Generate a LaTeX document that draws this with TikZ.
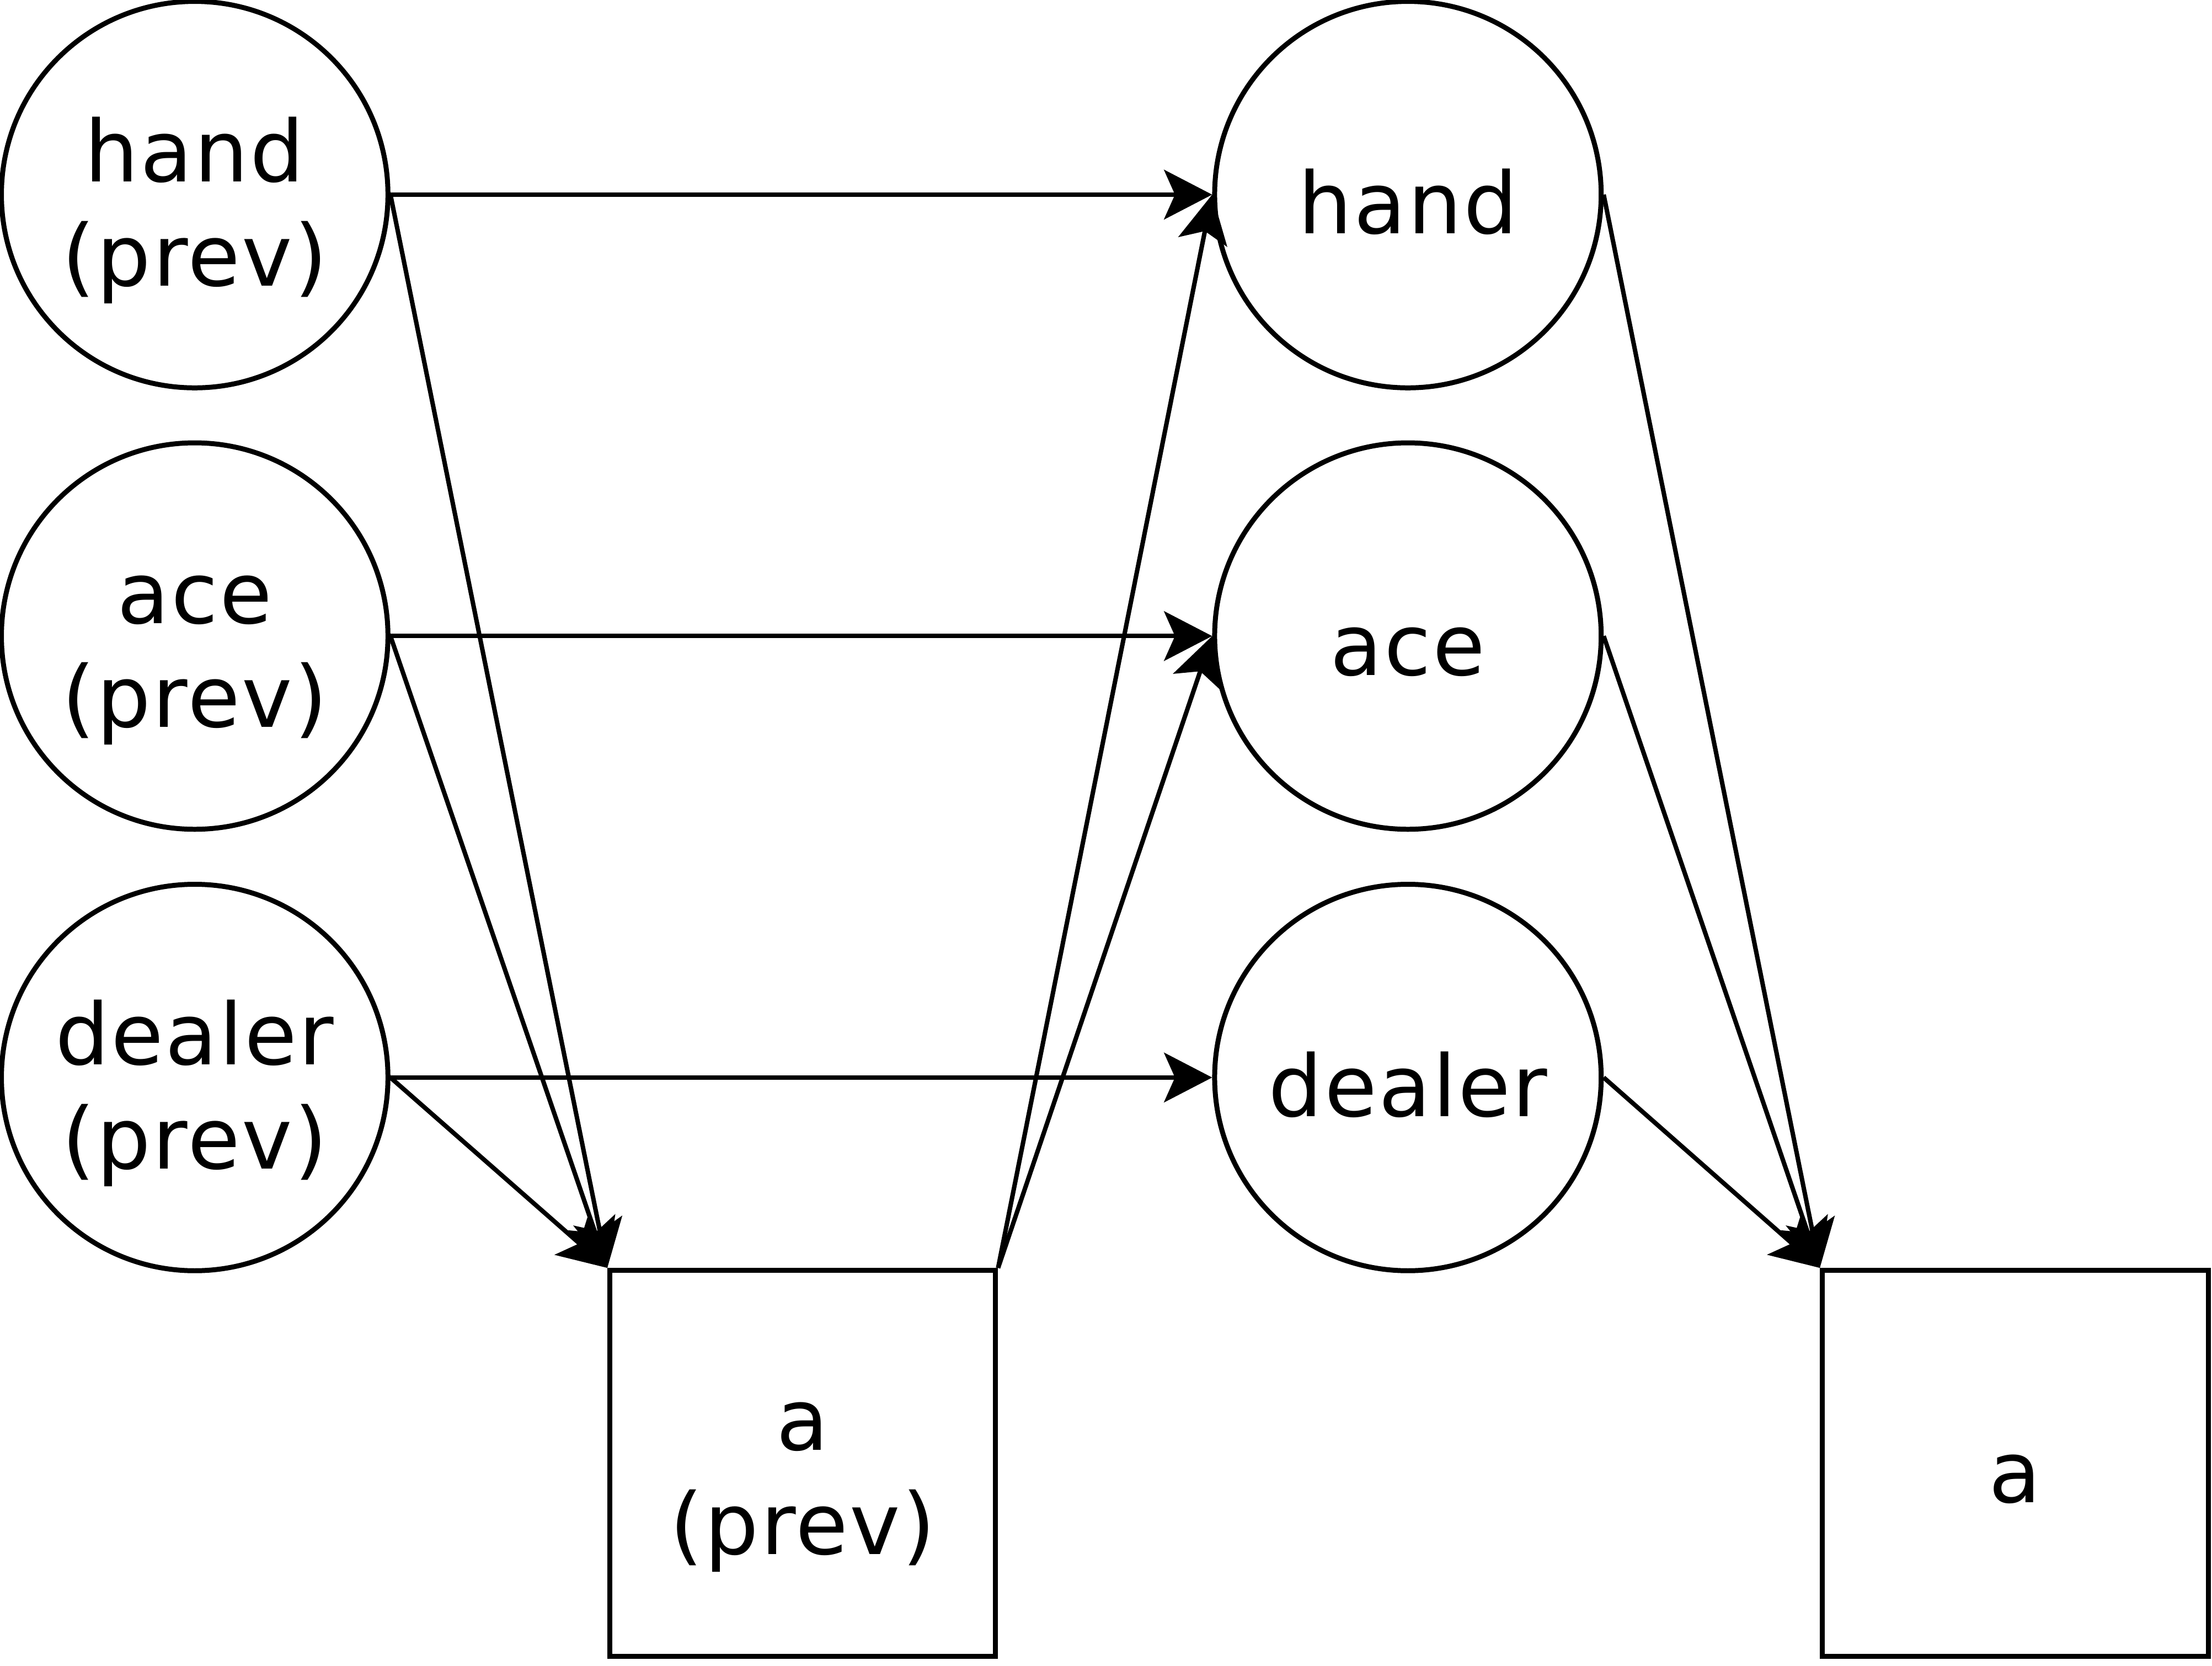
\documentclass[tikz,border=0pt]{standalone}
\usepackage{fontspec}
\setmainfont[LetterSpace=2]{DejaVu Sans}
\usetikzlibrary{arrows.meta,positioning}
% struts: first line height, last line depth
\newcommand{\topst}{\rule{0pt}{20pt}}
\newcommand{\botst}{\rule[-4.2pt]{0pt}{4.2pt}}
\tikzset{
    var/.style={circle,draw,line width=1pt,minimum size=2.74cm,inner sep=0pt,
                align=center,font=\fontsize{17.2}{21}\selectfont},
    act/.style={rectangle,draw,line width=1pt,minimum size=2.735cm,inner sep=0pt,
                align=center,font=\fontsize{17.2}{21}\selectfont},
    link/.style={-{Stealth[length=9.7pt,width=10pt,inset=2.2pt]},line width=0.9pt}
}

\begin{document}
\begin{tikzpicture}
    \useasboundingbox (0,0) rectangle (15.68,-11.81);
    % previous step
    \node[var] (handprev)   at (1.38,-1.38) {\topst hand\\(prev)\botst};
    \node[var] (aceprev)    at (1.38,-4.51) {\topst ace\\(prev)\botst};
    \node[var] (dealerprev) at (1.38,-7.64) {\topst dealer\\(prev)\botst};
    \node[act] (aprev)      at (5.69,-10.375) {\topst a\\(prev)\botst};
    % current step
    \node[var] (hand)   at (9.98,-1.38) {\topst hand\botst};
    \node[var] (ace)    at (9.98,-4.51) {\topst ace\botst};
    \node[var] (dealer) at (9.98,-7.64) {\topst dealer\botst};
    \node[act] (acur)   at (14.285,-10.375) {\topst a\botst};

    \draw[link] (handprev.east)   -- (hand.west);
    \draw[link] (aceprev.east)    -- (ace.west);
    \draw[link] (dealerprev.east) -- (dealer.west);
    \draw[link] (handprev.east)   -- (aprev.north west);
    \draw[link] (aceprev.east)    -- (aprev.north west);
    \draw[link] (dealerprev.east) -- (aprev.north west);
    \draw[link] (aprev.north east) -- (hand.west);
    \draw[link] (aprev.north east) -- (ace.west);
    \draw[link] (hand.east)   -- (acur.north west);
    \draw[link] (ace.east)    -- (acur.north west);
    \draw[link] (dealer.east) -- (acur.north west);
\end{tikzpicture}
\end{document}
